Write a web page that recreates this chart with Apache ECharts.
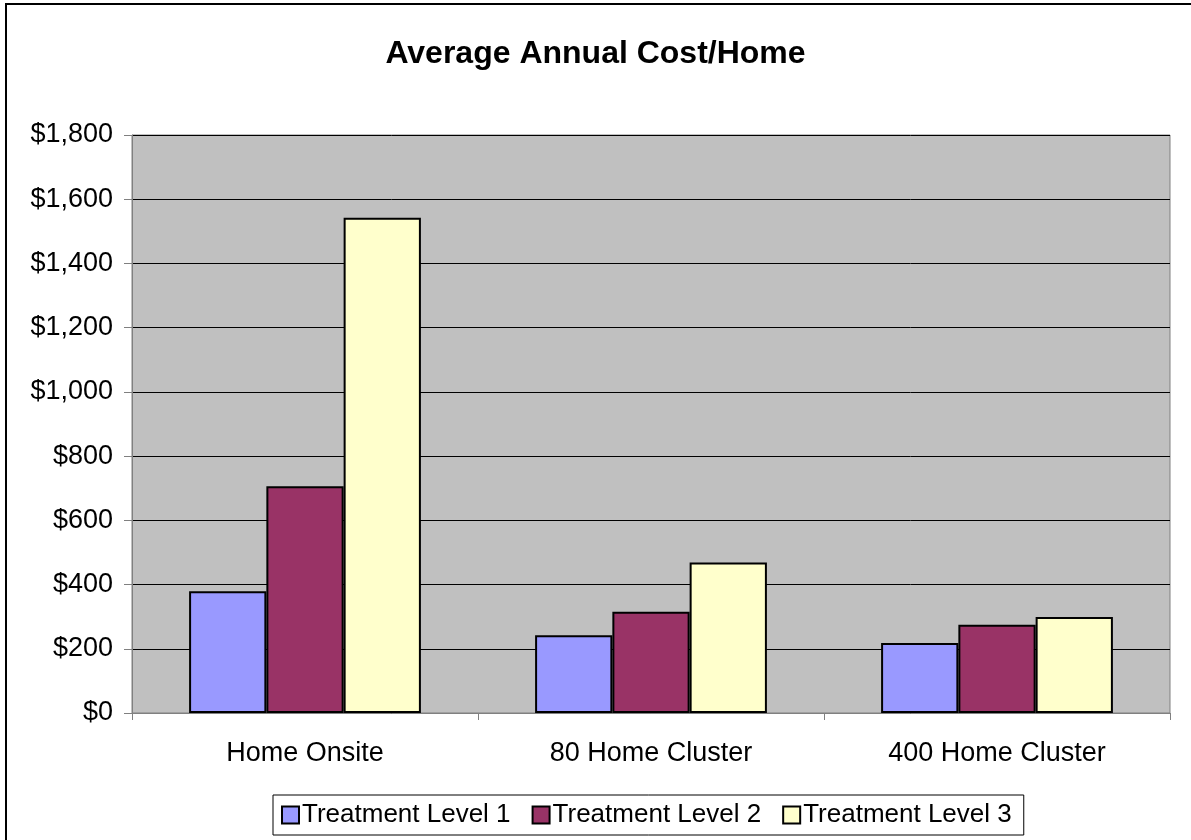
<!DOCTYPE html>
<html>
<head>
<meta charset="utf-8">
<script src="https://cdn.jsdelivr.net/npm/echarts@6/dist/echarts.min.js"></script>
<style>
html,body{margin:0;padding:0;background:#fff;}
#c{width:1191px;height:840px;}
</style>
</head>
<body>
<div id="c"></div>
<script>
const categories = ['Home Onsite', '80 Home Cluster', '400 Home Cluster'];
const seriesNames = ['Treatment Level 1', 'Treatment Level 2', 'Treatment Level 3'];
const level1 = [379, 242, 218];
const level2 = [706, 315, 275];
const level3 = [1542, 469, 299];
const yTicks = [0, 200, 400, 600, 800, 1000, 1200, 1400, 1600, 1800];

const colors = ['#9999FF', '#993366', '#FFFFCC'];
const values = [level1, level2, level3];
const font = '"Liberation Sans", Arial, sans-serif';

const chart = echarts.init(document.getElementById('c'));
chart.setOption({
  animation: false,
  backgroundColor: '#ffffff',
  title: {
    text: 'Average Annual Cost/Home',
    left: 'center',
    top: 33,
    textStyle: { fontFamily: font, fontSize: 32, fontWeight: 'bold', color: '#000' }
  },
  graphic: [{
    type: 'rect',
    shape: { x: 6, y: 4, width: 1300, height: 1000 },
    style: { fill: 'none', stroke: '#000', lineWidth: 2 },
    silent: true
  }],
  grid: {
    left: 132, top: 135, right: 21, bottom: 127,
    show: true, backgroundColor: '#C0C0C0', borderColor: '#808080', borderWidth: 1
  },
  legend: {
    top: 795,
    left: 273,
    data: seriesNames,
    icon: 'rect',
    itemWidth: 17,
    itemHeight: 17,
    itemGap: 21,
    padding: [7, 12, 7, 8],
    borderColor: '#000',
    borderWidth: 1,
    backgroundColor: '#fff',
    itemStyle: { borderColor: '#000', borderWidth: 2 },
    textStyle: { fontFamily: font, fontSize: 26, color: '#000', padding: [0, 0, 0, -2] }
  },
  xAxis: {
    type: 'category',
    data: categories,
    axisLine: { lineStyle: { color: '#808080', width: 1 } },
    axisTick: { show: true, alignWithLabel: false, length: 7, lineStyle: { color: '#808080' } },
    axisLabel: { fontFamily: font, fontSize: 27, color: '#000', margin: 27 },
    splitLine: { show: false }
  },
  yAxis: {
    type: 'value',
    min: yTicks[0],
    max: yTicks[yTicks.length - 1],
    interval: 200,
    axisLine: { show: true, lineStyle: { color: '#808080', width: 1 } },
    axisTick: { show: true, length: 8, lineStyle: { color: '#808080' } },
    axisLabel: {
      fontFamily: font, fontSize: 27, color: '#000', margin: 19,
      formatter: v => '$' + v.toLocaleString('en-US')
    },
    splitLine: { show: true, lineStyle: { color: '#000', width: 1 } }
  },
  series: seriesNames.map((name, i) => ({
    name: name,
    type: 'bar',
    data: values[i],
    barGap: '0%',
    barCategoryGap: '33%',
    itemStyle: { color: colors[i], borderColor: '#000', borderWidth: 2 }
  }))
});
</script>
</body>
</html>
